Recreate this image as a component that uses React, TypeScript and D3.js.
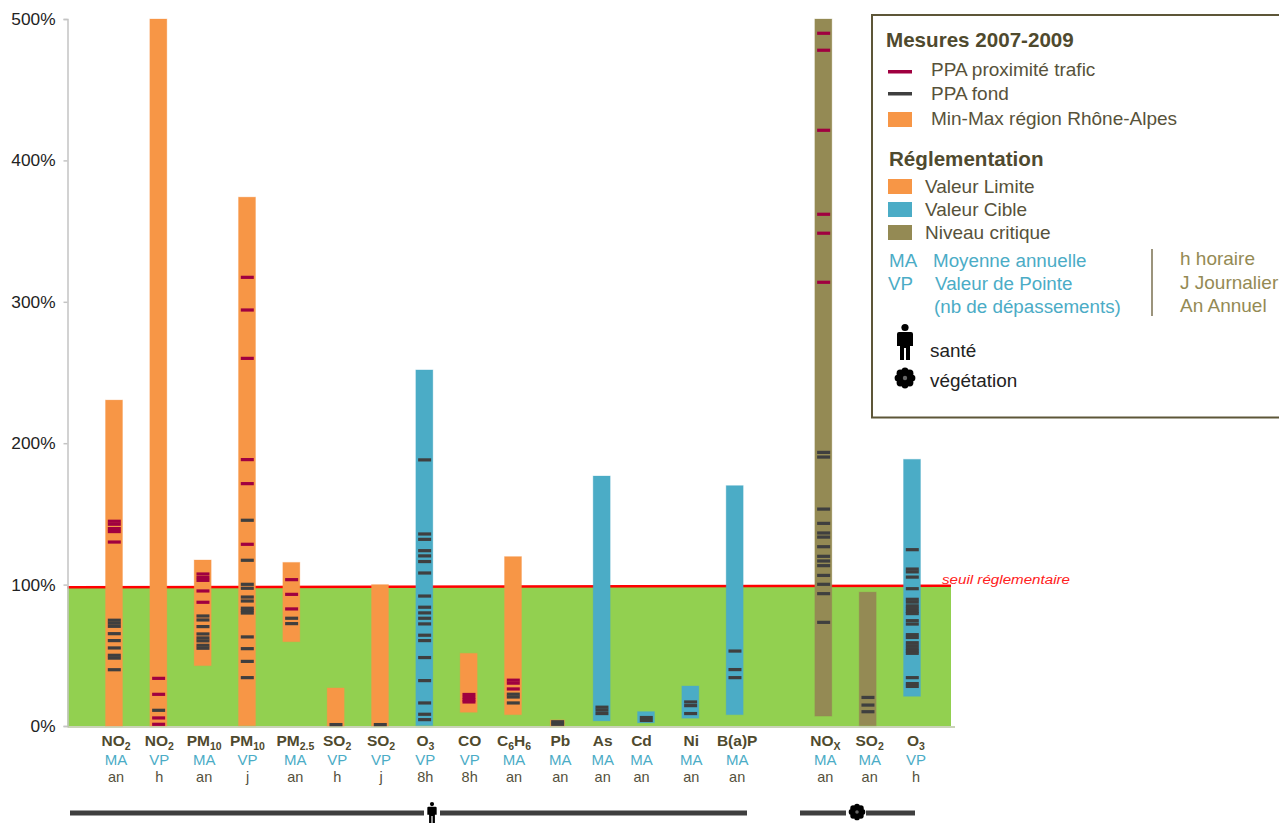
import * as d3 from 'd3';
import { useEffect, useRef } from 'react';

// one entry per slot, the empty slot separates santé from végétation
const pollutants = ['NO_2', 'NO_2', 'PM_10', 'PM_10', 'PM_2.5', 'SO_2', 'SO_2', 'O_3', 'CO', 'C_6H_6', 'Pb', 'As', 'Cd', 'Ni', 'B(a)P', '', 'NO_X', 'SO_2', 'O_3'];
const metrics = ['MA', 'VP', 'MA', 'VP', 'MA', 'VP', 'VP', 'VP', 'VP', 'MA', 'MA', 'MA', 'MA', 'MA', 'MA', '', 'MA', 'MA', 'VP'];
const periods = ['an', 'h', 'an', 'j', 'an', 'h', 'j', '8h', '8h', 'an', 'an', 'an', 'an', 'an', 'an', '', 'an', 'an', 'h'];
const kinds = ['limite', 'limite', 'limite', 'limite', 'limite', 'limite', 'limite', 'cible', 'limite', 'limite', 'limite', 'cible', 'cible', 'cible', 'cible', '', 'critique', 'critique', 'cible'];
const barLow = [0, 0, 42.7, 0.2, 59.6, 0, 0, 0.3, 9.7, 8, 0, 3.6, 2.2, 5.5, 8, 0, 7, 0.2, 21];
const barHigh = [230.5, 500, 117.4, 374, 115.7, 26.9, 100, 251.8, 51.4, 119.8, 4.3, 176.8, 10.2, 28.3, 170, 0, 500, 94.7, 188.6];

const trafficMarks: number[][] = [
    [144.8, 142.7, 139.6, 137.5, 130.1],
    [33.7, 22.4, 5.7, 1.2],
    [107.5, 105, 103, 95.5, 87.5],
    [317.3, 294.2, 260, 188.4, 171.4, 128.5],
    [103.5, 93.1, 82.8],
    [],
    [],
    [],
    [22.3, 20.2, 18.4, 17],
    [32.4, 30.3, 26.2],
    [],
    [],
    [],
    [],
    [],
    [],
    [489.9, 477.9, 421.3, 361.9, 348.5, 313.8],
    [],
    [],
];

const backgroundMarks: number[][] = [
    [74.8, 72.7, 70.5, 65.3, 60.4, 55.2, 50, 48, 39.8],
    [11.1],
    [77.8, 75, 70.3, 65.1, 62.3, 60.2, 57.1, 55],
    [145.5, 117.2, 100.2, 97.4, 91.2, 88.4, 83.3, 81.7, 79.9, 63, 54.7, 45.7, 34.2],
    [76.2, 72.4],
    [1],
    [1],
    [188.2, 135.8, 132, 124, 120.3, 116.3, 108.2, 91.9, 84, 80, 76.2, 72.2, 64.2, 60.4, 48.4, 32.1, 16.3, 8.3, 4.5],
    [],
    [22.5, 20.5, 16.3],
    [3, 1.2],
    [13.3, 11.2, 8.8],
    [6, 3.9],
    [17, 14.4, 8.8],
    [53, 39.9, 34.2],
    [],
    [193.5, 190.2, 153.4, 143.3, 136.5, 133.6, 126.8, 120, 116.7, 113.4, 106.5, 100.2, 93.6, 73.3],
    [20.2, 14.8, 10.1],
    [124.7, 111, 109, 105.3, 97.1, 89.6, 87.6, 85, 83, 81, 79.5, 74.5, 72.1, 64.6, 62.6, 58.9, 56.8, 54.7, 53, 51.4, 34.2, 30, 28],
];

const thresholdEnds = [98.1, 99.2];
const yTicks = [0, 100, 200, 300, 400, 500];

// how far each label block sits from its bar
const labelShift = [2, 1, 1.5, 0.5, 4, 1.5, 1, 1, 1, 1, 3, 1, -4.5, 1, 2.5, 0, 2, 2, 4];

const colors: Record<string, string> = { limite: '#f79646', cible: '#4bacc6', critique: '#948a54' };
const traffic = '#a00040';
const background = '#3f3f3f';
const brown = '#4f4a2e';
const font = '"Liberation Sans", Arial, sans-serif';

function drawPerson(g: d3.Selection<SVGGElement, unknown, null, undefined>, cx: number, top: number, h: number) {
    const k = h / 36;
    const p = g.append('g').attr('transform', `translate(${cx},${top}) scale(${k})`).attr('fill', '#000');
    p.append('circle').attr('cx', 0).attr('cy', 3.5).attr('r', 3.6);
    p.append('path').attr('d', 'M-8,10 Q-8,8 -6,8 L6,8 Q8,8 8,10 L8,22 L5,22 L5,36 L1,36 L1,24 L-1,24 L-1,36 L-5,36 L-5,22 L-8,22 Z');
}

function drawFlower(g: d3.Selection<SVGGElement, unknown, null, undefined>, cx: number, cy: number, r: number) {
    const f = g.append('g').attr('transform', `translate(${cx},${cy})`);
    d3.range(8).forEach(i => {
        const a = (i * Math.PI) / 4;
        f.append('circle').attr('cx', Math.cos(a) * r * 0.68).attr('cy', Math.sin(a) * r * 0.68).attr('r', r * 0.36).attr('fill', '#000');
    });
    f.append('circle').attr('r', r * 0.72).attr('fill', '#000');
    f.append('circle').attr('r', r * 0.22).attr('fill', '#666');
}

const App = () => {
    const ref = useRef<SVGSVGElement>(null);

    useEffect(() => {
        const svg = d3.select(ref.current!);
        svg.selectAll('*').remove();
        const root = svg.append('g') as d3.Selection<SVGGElement, unknown, null, undefined>;
        root.style('font-family', font);

        const slots = d3.range(pollutants.length);
        const x = d3.scalePoint<number>().domain(slots).range([114, 912]);
        const y = d3.scaleLinear().domain([0, 500]).range([726, 19]);
        const left = 67.5;
        const right = 951;
        const thresholdX = d3.scaleLinear().domain([0, 1]).range([left, right]);

        // green zone under the threshold
        const zone = d3.area<number>()
            .x((_, i) => thresholdX(i))
            .y0(y(0))
            .y1(d => y(d));
        root.append('path').attr('d', zone(thresholdEnds)!).attr('fill', '#92d050');

        const thresholdLine = d3.line<number>()
            .x((_, i) => thresholdX(i))
            .y(d => y(d));
        root.append('path').attr('d', thresholdLine(thresholdEnds)!).attr('fill', 'none').attr('stroke', '#ff0000').attr('stroke-width', 2.5);

        // Axes
        const yAxis = root.append('g')
            .attr('transform', `translate(${left},0)`)
            .call(d3.axisLeft(y).tickValues(yTicks).tickSize(4).tickPadding(8).tickFormat(d => `${d}%`));
        yAxis.selectAll('line, path').attr('stroke', '#c4c4c4').attr('stroke-width', 1.5);
        yAxis.selectAll('text').attr('font-size', 17.3).attr('font-family', font).attr('fill', '#222');

        root.append('line').attr('x1', left).attr('x2', 955).attr('y1', y(0) + 1).attr('y2', y(0) + 1)
            .attr('stroke', '#b9c4a0').attr('stroke-width', 1.5);

        // Bars and measures
        const barW = 17;
        const markW = 13;
        slots.forEach(i => {
            if (!pollutants[i]) return;
            const w = pollutants[i] === 'Pb' ? 14 : barW;
            const cx = x(i)!;
            root.append('rect')
                .attr('x', cx - w / 2)
                .attr('y', y(barHigh[i]))
                .attr('width', w)
                .attr('height', y(barLow[i]) - y(barHigh[i]))
                .attr('fill', colors[kinds[i]])
                .attr('stroke', colors[kinds[i]])
                .attr('stroke-opacity', 0.3)
                .attr('stroke-width', 1);
            const drawMarks = (values: number[], color: string) => {
                values.forEach(v => {
                    root.append('rect')
                        .attr('x', cx - markW / 2 + 0.3)
                        .attr('y', y(v) - 1.6)
                        .attr('width', markW)
                        .attr('height', 3.2)
                        .attr('fill', color);
                });
            };
            drawMarks(backgroundMarks[i], background);
            drawMarks(trafficMarks[i], traffic);

            // Labels under the axis
            const lx = cx + labelShift[i];
            const name = root.append('text').attr('x', lx).attr('y', 746).attr('text-anchor', 'middle')
                .attr('font-size', 15.5).attr('font-weight', 'bold').attr('fill', brown);
            let afterSub = false;
            pollutants[i].split(/(_[0-9.X]+)/).filter(Boolean).forEach(part => {
                if (part.startsWith('_')) {
                    name.append('tspan').attr('font-size', 10.5).attr('dy', 3.5).text(part.slice(1));
                    afterSub = true;
                } else {
                    const t = name.append('tspan').text(part);
                    if (afterSub) t.attr('dy', -3.5);
                    afterSub = false;
                }
            });
            root.append('text').attr('x', lx).attr('y', 764.5).attr('text-anchor', 'middle')
                .attr('font-size', 15).attr('fill', '#4bacc6').text(metrics[i]);
            root.append('text').attr('x', lx).attr('y', 782).attr('text-anchor', 'middle')
                .attr('font-size', 14.5).attr('fill', '#55513c').text(periods[i]);
        });

        root.append('text').attr('x', 942).attr('y', 584).attr('font-size', 12.5).attr('font-style', 'italic')
            .attr('fill', '#ff2020').attr('textLength', 128).attr('lengthAdjust', 'spacingAndGlyphs').text('seuil réglementaire');

        // Bottom group lines
        const groupLines = [[70, 424], [440, 747], [800, 846], [866, 915]];
        groupLines.forEach(([a, b]) => {
            root.append('rect').attr('x', a).attr('y', 810.5).attr('width', b - a).attr('height', 5).attr('fill', background);
        });
        drawPerson(root, 432, 802, 21);
        drawFlower(root, 857, 812, 8);

        // Legend
        root.append('rect').attr('x', 872).attr('y', 15).attr('width', 420).attr('height', 402.5)
            .attr('fill', '#fff').attr('stroke', '#5d5638').attr('stroke-width', 2);

        const text = (tx: number, ty: number, s: string, size: number, fill: string, bold = false) => {
            root.append('text').attr('x', tx).attr('y', ty).attr('font-size', size).attr('fill', fill)
                .attr('font-weight', bold ? 'bold' : 'normal').text(s);
        };
        const legendText = '#57523a';

        text(886, 47, 'Mesures 2007-2009', 20.6, brown, true);
        root.append('rect').attr('x', 888).attr('y', 70).attr('width', 24).attr('height', 3.5).attr('fill', traffic);
        root.append('rect').attr('x', 888).attr('y', 92).attr('width', 24).attr('height', 3.5).attr('fill', background);
        root.append('rect').attr('x', 888).attr('y', 112).attr('width', 24).attr('height', 15).attr('fill', colors.limite);
        text(931, 76, 'PPA proximité trafic', 19, legendText);
        text(931, 100, 'PPA fond', 19, legendText);
        text(931, 125, 'Min-Max région Rhône-Alpes', 19, legendText);

        text(889, 166, 'Réglementation', 20.6, brown, true);
        [['limite', 179, 'Valeur Limite'], ['cible', 202, 'Valeur Cible'], ['critique', 225, 'Niveau critique']].forEach(([k, sy, s]) => {
            root.append('rect').attr('x', 888).attr('y', sy as number).attr('width', 24).attr('height', 15).attr('fill', colors[k as string]);
            text(925, (sy as number) + 14, s as string, 19, legendText);
        });

        const blue = '#4bacc6';
        text(889, 267, 'MA', 18.8, blue);
        text(933, 267, 'Moyenne annuelle', 18.8, blue);
        text(888, 290, 'VP', 18.8, blue);
        text(935, 290, 'Valeur de Pointe', 18.8, blue);
        text(934, 313, '(nb de dépassements)', 18.8, blue);

        root.append('line').attr('x1', 1152).attr('x2', 1152).attr('y1', 249).attr('y2', 316).attr('stroke', '#7a7050').attr('stroke-width', 1.5);
        text(1180, 265, 'h horaire', 19, '#948a54');
        text(1180, 289, 'J Journalier', 19, '#948a54');
        text(1180, 312, 'An Annuel', 19, '#948a54');

        drawPerson(root, 905, 324, 36);
        drawFlower(root, 905, 378, 10);
        text(930, 357, 'santé', 18.9, '#222');
        text(930, 387, 'végétation', 18.9, '#222');
    }, []);

    return (
        <svg
            ref={ref}
            width={1279}
            height={823}
            style={{ position: 'absolute', left: 0, top: 0, display: 'block', background: '#fff' }}
        />
    );
};

export default App;
